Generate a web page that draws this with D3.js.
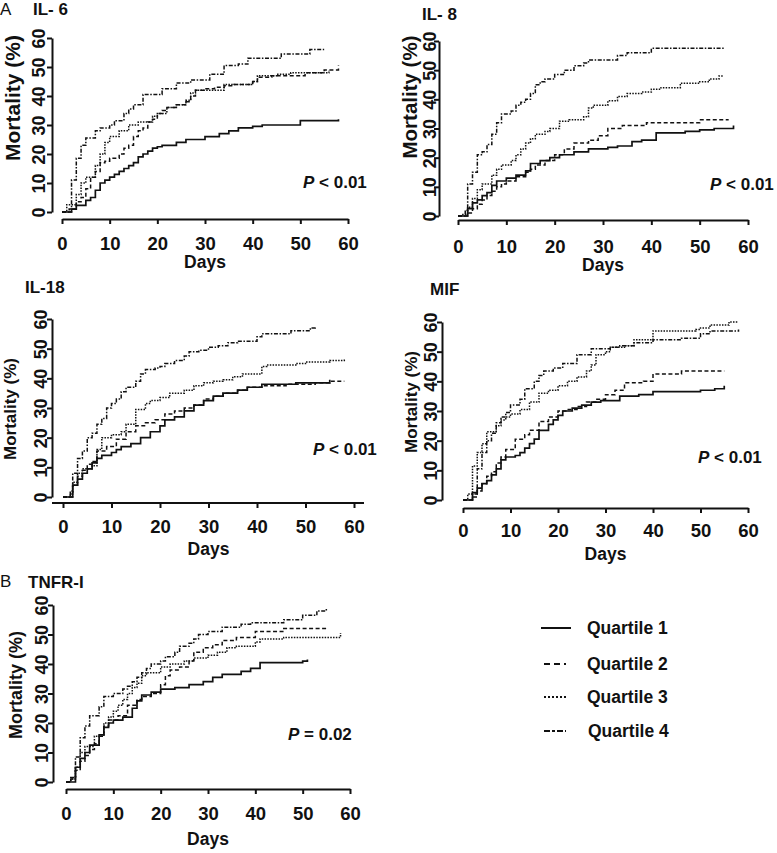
<!DOCTYPE html>
<html><head><meta charset="utf-8">
<script src="https://cdn.jsdelivr.net/npm/d3@7"></script>
<style>
body{margin:0;background:#fff;}
svg text{font-family:"Liberation Sans",Arial,sans-serif;fill:#111;}
</style></head>
<body><svg id="c" width="777" height="853"></svg>
<script>
// ---------- data (day, cumulative mortality %) ----------
const xTicks = [0,10,20,30,40,50,60];
const yTicks = [0,10,20,30,40,50,60];
const quartileNames = ["Quartile 1","Quartile 2","Quartile 3","Quartile 4"];

const il6Q1 = [[0,0],[2,1],[3,2.3],[5,4],[6,5],[7,7.5],[8,10],[9,11],[10,12],[11,13],[12,14],[13,15],[14,16],[15,17],[16,19],[17,20],[18,21],[19,22],[20,22.5],[21,23],[24,24],[26,25],[30,26],[33,27],[35,28],[37,29],[40,29.5],[42,30],[50,31.5],[58,32]];
const il6Q2 = [[0,0],[2,1],[3,3.5],[4,5],[5,8],[6,12],[7,14],[8,17],[9,17.5],[10,18.5],[12,20],[13,22],[14,23],[15,26],[16,28],[17,29],[18,31],[19,32],[20,34],[21,35],[22,36],[24,37],[26,38],[27,40],[28,42],[30,42.5],[32,43],[34,43.5],[36,44],[40,45],[41,46.5],[44,47],[51,48],[55,49],[58,50.5]];
const il6Q3 = [[0,0],[1,2.5],[3,6],[4,10],[5,12],[7,16],[8,20],[9,24],[10,26],[12,28],[14,30],[16,31],[19,33],[20,34],[22,36],[24,37],[26,38.5],[27,41],[28,42],[34,44],[40,45],[41,47],[45,47.5],[48,48],[56,49]];
const il6Q4 = [[0,0],[1.5,1],[2,11],[3,18.5],[4,23],[5,25.5],[7,28],[8,29],[10,30],[11,31.5],[13,34],[14,35.5],[15,37],[17,40.5],[21,42.5],[24,44.5],[27,45.5],[31,47.5],[34,50.5],[37,51],[39,53],[46,54.5],[52,56],[55,56]];

const il8Q1 = [[0,0],[2,2.5],[3,4.5],[4,5.5],[5,7],[6,8],[7,10.5],[8,12],[10,13],[12,14],[14,15.5],[15,18],[17,19],[19,20],[21,21],[24,22],[27,23],[31,23.5],[33,24],[36,25.5],[38,26],[41,28.5],[47,29],[50,29.5],[53,30],[57,31]];
const il8Q2 = [[0,0],[2,1],[3,2.5],[4,4],[5,5.5],[6,7],[7,8.5],[8,10],[9,11],[10,12],[12,13.5],[14,15],[15,16],[16,17.5],[18,19],[20,21],[22,23],[24,25],[27,26],[29,27.5],[31,30],[34,31],[39,32],[50,33],[56,33]];
const il8Q3 = [[0,0],[1,0.5],[2,3],[3,6],[4,9],[5,11],[7,14],[8,16],[9,17.5],[11,19],[12,21],[13,23],[14,25],[15,26.5],[16,28],[18,29],[19,30],[21,32.5],[23,33],[26,34],[27,37],[28,38],[31,39.5],[33,41],[35,42],[38,42.5],[40,43.5],[42,44],[46,45.5],[50,46],[52,47],[54,48],[55,48]];
const il8Q4 = [[0,0],[1.5,2],[2,11],[3,15],[4,21],[5,22],[6,24.5],[7,28],[8,32],[9,35],[11,36],[12,38],[13,39],[14,40],[15,42],[16,45],[17,46],[18,47],[20,48.5],[22,50],[24,51.5],[26,52.5],[27,53.5],[33,55],[35,56],[40,57.5],[55,57.5]];

const il18Q1 = [[0,0],[1,0],[2,4],[3,6],[4,8],[5,9.5],[6,11.5],[7,13],[8,14],[10,15],[11,16],[12,17],[14,18],[16,20],[18,22],[20,24],[21,26],[23,27],[25,29],[27,31],[29,32.5],[31,34],[33,35],[36,36],[38,37],[41,38],[48,38.5],[55,39.5]];
const il18Q2 = [[0,0],[1,0],[2,4],[3,7],[4,9],[5,11],[6,12],[7,15.5],[9,17],[11,19.5],[13,22],[15,24],[17,25],[19,26],[21,28],[23,29],[25,30],[27,31],[29,33],[31,34],[33,35],[36,36],[38,37],[41,37.5],[46,38],[52,38.5],[55,39],[58,39]];
const il18Q3 = [[0,0],[1.5,1],[2,5],[3,8],[4,9.5],[6,10.5],[7,16],[8,20],[10,21],[12,22],[13,24.5],[15,29.5],[17,31.5],[18,32.5],[20,33.5],[22,35],[25,36],[27,37.5],[29,38.5],[31,39],[33,39.5],[35,40.5],[37,41.5],[41,44],[42,44.5],[48,45],[50,45.5],[55,46],[58,46.5]];
const il18Q4 = [[0,0],[1.5,2],[2,8],[3,13],[4,15.5],[5,20],[6,21.5],[7,24.5],[8,26.5],[9,30],[10,31.5],[11,33],[12,35.5],[13,37],[15,39],[16,41.5],[17,43],[19,43.5],[20,44],[21,45],[23,46],[25,47.5],[26,49],[28,49.5],[30,50.5],[32,51],[34,52],[36,52.5],[40,54],[41,55],[47,56],[51,57],[52,57.5]];

const mifQ1 = [[0,0],[1,0],[2,2.5],[3,4],[4,5.5],[5,6.5],[6,8.5],[7,10.5],[8,13.5],[9,14.5],[11,15],[12,16],[13,17.5],[14,19],[15,20.5],[16,23.5],[18,25.5],[19,27],[20,28.5],[21,30],[23,31],[25,32],[27,33],[29,33.5],[33,35],[37,35.5],[40,36.5],[50,37],[53,37.5],[55,38.5]];
const mifQ2 = [[0,0],[2,1],[3,3],[4,5.5],[5,8],[6,9.5],[7,12.5],[8,14.5],[9,17],[11,20.5],[13,22],[14,23.5],[16,26.5],[18,28],[20,30],[22,30.5],[24,31.5],[26,33],[28,34],[30,35.5],[32,37],[34,39.5],[38,40],[40,42.5],[46,43.5],[55,43.5]];
const mifQ3 = [[0,0],[1,2],[2,11.5],[3,16],[4,19],[5,23],[7,25],[8,27],[9,28],[10,29],[12,30.5],[14,33],[16,36],[18,37],[20,38.5],[22,40],[24,41.5],[26,43.5],[27,45.5],[28,49],[30,50],[31,51.5],[34,52],[36,54],[40,57],[49,57.5],[50,58],[52,59],[56,60],[58,60]];
const mifQ4 = [[0,0],[2,2],[3,10.5],[4,16],[5,20],[6,22.5],[7,26],[8,28],[9,29.5],[10,32],[12,34],[13,37.5],[15,40],[16,42],[17,43.5],[19,44.5],[21,46],[24,49],[27,51],[31,51.5],[33,52],[36,53],[40,54],[46,54.5],[50,56],[52,57],[58,57.5]];

const tnfQ1 = [[0,0],[1.5,0],[2,5],[3,8],[4,10],[5,12.5],[7,16],[8,18.5],[9,20],[10,21],[12,22],[14,25],[15,27.5],[16,29.5],[18,30.5],[20,31.5],[23,32],[26,33],[29,34],[31,35.5],[33,36.5],[37,37.5],[39,38.5],[41,40.5],[50,41],[51,41.5]];
const tnfQ2 = [[0,0],[1,1],[2,4],[3,7],[4,9],[5,11],[6,13],[7,15.5],[8,19],[9,21],[11,22.5],[13,26],[15,28],[16,29],[18,30],[20,33],[21,36],[22,38],[24,39],[26,41],[27,44],[29,45.5],[31,46.5],[33,48],[36,49],[40,51],[46,52],[55,52.5]];
const tnfQ3 = [[0,0],[1,1],[2,5],[3,10],[4,12],[6,15.5],[8,20],[9,22],[10,24],[11,26],[12,28],[13,30],[14,32],[15,33.5],[16,36],[17,37],[20,39],[22,40],[25,41],[27,42],[30,43],[32,44],[34,45.5],[36,46],[40,47.5],[41,48.5],[46,49],[58,50.5]];
const tnfQ4 = [[0,0],[1,1.5],[2,8.5],[3,15],[4,19],[5,22.5],[7,25.5],[8,29],[10,30],[12,31.5],[13,32.5],[14,34],[15,35.5],[16,37],[17,38.5],[18,40],[20,41],[21,42.5],[23,44],[24,46],[26,47],[27,48.5],[28,50],[30,51],[33,52.5],[37,53.5],[39,54],[46,55],[50,56.5],[53,58],[55,59]];

const panelTitles = ["IL- 6","IL- 8","IL-18","MIF","TNFR-I"];
const pValues = ["< 0.01","< 0.01","< 0.01","< 0.01","= 0.02"];

// ---------- layout (pixels) ----------
const layouts = [
  {tx:33, ty:15, ax:52, yTop:38, yBot:212, xAy:219, x0:62, x60:348, tlY:250, dY:268, px:303, py:188, lx:20, ly:98, ls:21, to:7},
  {tx:422, ty:20, ax:439, yTop:41, yBot:216, xAy:220, x0:458, x60:748, tlY:253, dY:271, px:710, py:190, lx:417, ly:97, ls:20.5, to:3},
  {tx:25, ty:293, ax:52, yTop:319, yBot:497, xAy:503, x0:63, x60:354, xl0:52, xl1:364, tlY:533, dY:555, px:313, py:455, lx:16, ly:409, ls:17, to:5},
  {tx:430, ty:295, ax:442, yTop:322, yBot:500, xAy:508, x0:463, x60:748, tlY:537, dY:560, px:698, py:463, lx:417, ly:402, ls:17, to:5},
  {tx:28, ty:588, ax:53, yTop:605, yBot:782, xAy:789, x0:66, x60:350, tlY:820, dY:845, px:288, py:740, lx:22, ly:685, ls:18, to:5}
];
const panelSeries = [
  [il6Q1, il6Q2, il6Q3, il6Q4],
  [il8Q1, il8Q2, il8Q3, il8Q4],
  [il18Q1, il18Q2, il18Q3, il18Q4],
  [mifQ1, mifQ2, mifQ3, mifQ4],
  [tnfQ1, tnfQ2, tnfQ3, tnfQ4]
];
const dashes = [null, "4,2.5", "1.5,1.3", "4,1.6,1.5,1.6"];

const svg = d3.select("#c");
svg.append("text").attr("x",0).attr("y",15).attr("font-size",17).text("A");
svg.append("text").attr("x",0).attr("y",587).attr("font-size",17).text("B");

panelSeries.forEach((series, i) => {
  const L = layouts[i];
  const x = d3.scaleLinear().domain([0,60]).range([L.x0, L.x60]);
  const y = d3.scaleLinear().domain([0,60]).range([L.yBot, L.yTop]);
  const g = svg.append("g");

  g.append("text").attr("x",L.tx).attr("y",L.ty).attr("font-size",17).attr("font-weight","bold").text(panelTitles[i]);

  // y axis
  const ya = g.append("g").attr("transform",`translate(${L.ax},0)`)
    .call(d3.axisLeft(y).tickValues(yTicks).tickSize(5).tickSizeOuter(0));
  ya.select(".domain").attr("stroke","#111").attr("stroke-width",2);
  ya.selectAll(".tick line").attr("stroke","#111").attr("stroke-width",2);
  ya.selectAll(".tick text").attr("x",null).attr("dy",null)
    .attr("transform",`translate(${-L.to},0) rotate(-90)`)
    .attr("text-anchor","middle").attr("font-size",18).attr("font-weight","bold")
    .attr("font-family","Liberation Sans, Arial, sans-serif").attr("fill","#111");

  // x axis
  const xa = g.append("g").attr("transform",`translate(0,${L.xAy})`)
    .call(d3.axisBottom(x).tickValues(xTicks).tickSize(5).tickSizeOuter(0));
  xa.select(".domain").attr("stroke","#111").attr("stroke-width",2);
  if (L.xl0 !== undefined) {
    xa.select(".domain").attr("d",`M${L.xl0},0H${L.xl1}`);
  }
  xa.selectAll(".tick line").attr("stroke","#111").attr("stroke-width",2);
  xa.selectAll(".tick text").attr("y",L.tlY - L.xAy).attr("dy",null)
    .attr("font-size",18.5).attr("font-weight","bold")
    .attr("font-family","Liberation Sans, Arial, sans-serif").attr("fill","#111");

  g.append("text").attr("x",(L.x0+L.x60)/2).attr("y",L.dY).attr("text-anchor","middle")
    .attr("font-size",17.5).attr("font-weight","bold").text("Days");

  g.append("text").attr("transform",`translate(${L.lx},${L.ly}) rotate(-90)`)
    .attr("text-anchor","middle").attr("font-size",L.ls).attr("font-weight","bold").text("Mortality (%)");

  const pt = g.append("text").attr("x",L.px).attr("y",L.py).attr("font-size",17).attr("font-weight","bold");
  pt.append("tspan").attr("font-style","italic").text("P");
  pt.append("tspan").text(" " + pValues[i]);

  const line = d3.line().x(d=>x(d[0])).y(d=>y(d[1])).curve(d3.curveStepAfter);
  series.forEach((s, k) => {
    g.append("path").datum(s).attr("d",line).attr("fill","none")
      .attr("stroke", "#111").attr("stroke-width", k===0 ? 1.7 : 1.5)
      .attr("stroke-dasharray", dashes[k]);
  });
});

// legend
const legY = [628, 664, 697, 731];
const leg = svg.append("g");
quartileNames.forEach((n, k) => {
  leg.append("line").attr("x1",k===0?541:544).attr("x2",k===0?571:566)
    .attr("y1",legY[k]).attr("y2",legY[k]).attr("stroke","#111")
    .attr("stroke-width", k===0 ? 2 : 1.8).attr("stroke-dasharray", k===1 ? "6,4" : k===2 ? "2,2" : k===3 ? "6,2,3,2" : null);
  leg.append("text").attr("x",k===3?588:587).attr("y",legY[k]+6).attr("font-size",17.5)
    .attr("font-weight","bold").text(n);
});
</script></body></html>
